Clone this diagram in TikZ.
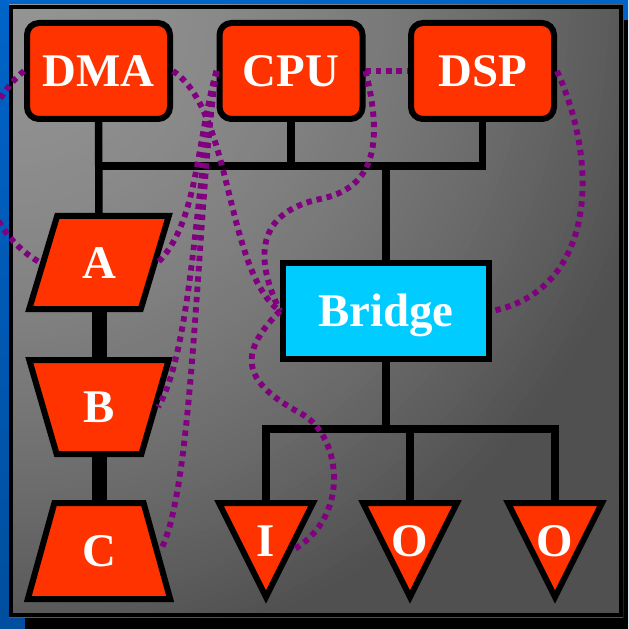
\documentclass[tikz,border=0pt]{standalone}
\usepackage{fontspec}
\setmainfont{Liberation Serif}
\usetikzlibrary{shapes.geometric,calc}

\newdimen\pxu \pxu=0.03cm

\definecolor{chipred}{HTML}{FF3300}
\definecolor{bridgecyan}{HTML}{00CCFF}
\definecolor{linkpurple}{HTML}{800080}
\definecolor{deskblueA}{HTML}{0064C8}
\definecolor{deskblueB}{HTML}{004E9E}

\pgfdeclarelayer{board}
\pgfdeclarelayer{wires}
\pgfsetlayers{board,wires,main}

\tikzset{
  label font/.style={font=\fontsize{40}{44}\selectfont\bfseries, text=white,
    text height=26.5pt, text depth=0pt},
  chip/.style={label font, draw=black, fill=chipred, line width=6\pxu,
    rounded corners=12\pxu, minimum width=143\pxu, minimum height=96\pxu, inner sep=0pt},
  bridgebox/.style={label font, draw=black, fill=bridgecyan, line width=6\pxu,
    minimum width=206\pxu, minimum height=96\pxu, inner sep=0pt},
  slab/.style={label font, draw=black, fill=chipred, line width=6\pxu,
    shape=trapezium, trapezium stretches=true, inner sep=0pt},
  para/.style={slab, trapezium left angle=70, trapezium right angle=110,
    minimum width=140\pxu, minimum height=93\pxu},
  funnel/.style={slab, trapezium left angle=108, trapezium right angle=108,
    minimum width=140\pxu, minimum height=94\pxu},
  cone/.style={slab, trapezium left angle=72, trapezium right angle=72,
    minimum width=143\pxu, minimum height=96\pxu},
  port/.style={label font, inner sep=0pt},
  portshape/.style={draw=black, fill=chipred, line width=6\pxu, line join=miter},
  bus/.style={draw=black, line width=7.5\pxu, line join=miter},
  heavybus/.style={draw=black, line width=15\pxu},
  wire/.style={draw=linkpurple, line width=5pt, dash pattern=on 4.6pt off 4.2pt}
}

\begin{document}
\begin{tikzpicture}[x=0.03cm, y=-0.03cm]
\useasboundingbox (0,0) rectangle (628,629);

% desk, shadow and board
\begin{pgfonlayer}{board}
  \shade[top color=deskblueA, bottom color=deskblueB] (0,0) rectangle (628,629);
  \fill[black] (25,20) rectangle (628,629);
  % board surface: grey rings fading out from the top left corner
  \begin{scope}
    \clip (9,5) rectangle (623,617);
    \foreach \k in {110,...,0} {
      \pgfmathsetmacro\rr{\k*8/614}
      \pgfmathsetmacro\cc{max(80,148-20*\rr-40*\rr*\rr)/255}
      \pgfmathsetlengthmacro\rad{(\k+1)*0.24cm}
      \definecolor{ringgray}{gray}{\cc}
      \fill[ringgray] (9,5) circle[radius=\rad];
    }
  \end{scope}
  \draw[black, line width=4\pxu] (11,7) rectangle (621,615);
\end{pgfonlayer}

% components
\node[chip] (DMA) at (98.5,71) {DMA};
\node[chip] (CPU) at (291,71) {CPU};
\node[chip] (DSP) at (482.5,71) {DSP};
\node[bridgebox] (Bridge) at (386,311) {Bridge};
\node[para] (A) at (99,262.5) {A};
\node[funnel] (B) at (99,407) {B};
\node[cone] (C) at (99,551) {C};
\node[port] (I) at (266,541) {I};
\node[port] (O1) at (410,541) {O};
\node[port] (O2) at (555,541) {O};

\coordinate (topbus) at (0,166);
\coordinate (lowbus) at (0,429);
\coordinate (k1) at (320,199);
\coordinate (k2) at (300,413);

% buses and port bodies
\begin{pgfonlayer}{wires}
  \draw[heavybus] (A.center) -- (B.center) -- (C.center);
  \draw[bus] (DMA.center) -- (A.center);
  \draw[bus] (DMA.center |- topbus) -| (DSP.center);
  \draw[bus] (CPU.center) -- (CPU.center |- topbus);
  \draw[bus] (Bridge.center) -- (Bridge.center |- topbus);
  \draw[bus] (Bridge.center) -- (Bridge.center |- lowbus);
  \draw[bus] (I.center) -- (I.center |- lowbus) -- (O2.center |- lowbus) -- (O2.center);
  \draw[bus] (O1.center) -- (O1.center |- lowbus);
  \foreach \p in {I,O1,O2}
    \filldraw[portshape] ($(\p.center)+(-47,-38)$) -- ($(\p.center)+(47,-38)$)
      -- ($(\p.center)+(0,56)$) -- cycle;
\end{pgfonlayer}

% dotted links
\draw[wire] (DMA.west) .. controls +(-60,50) and +(-70,-40) .. (A.west);
\draw[wire] (DMA.east) .. controls +(60,40) and +(-55,-40) .. (Bridge.west);
\draw[wire] (CPU.west) .. controls +(-20,70) and +(40,-40) .. (A.east);
\draw[wire] (CPU.west) .. controls +(-20,100) and +(35,-60) .. (B.east);
\draw[wire] (CPU.west) .. controls +(-20,130) and +(35,-60) .. (C.east);
\draw[wire] (CPU.east) -- (DSP.west);
\draw[wire] (CPU.east) .. controls +(20,80) and +(50,-10) .. (k1)
  .. controls +(-70,15) and +(-22,-45) .. (Bridge.west);
\draw[wire] (Bridge.west) .. controls +(-45,45) and +(-55,-30) .. (k2)
  .. controls +(40,20) and +(60,-35) .. ($(I.center)+(27,9)$);
\draw[wire] (DSP.east) .. controls +(45,100) and +(100,-20) .. (Bridge.east);
\end{tikzpicture}
\end{document}
